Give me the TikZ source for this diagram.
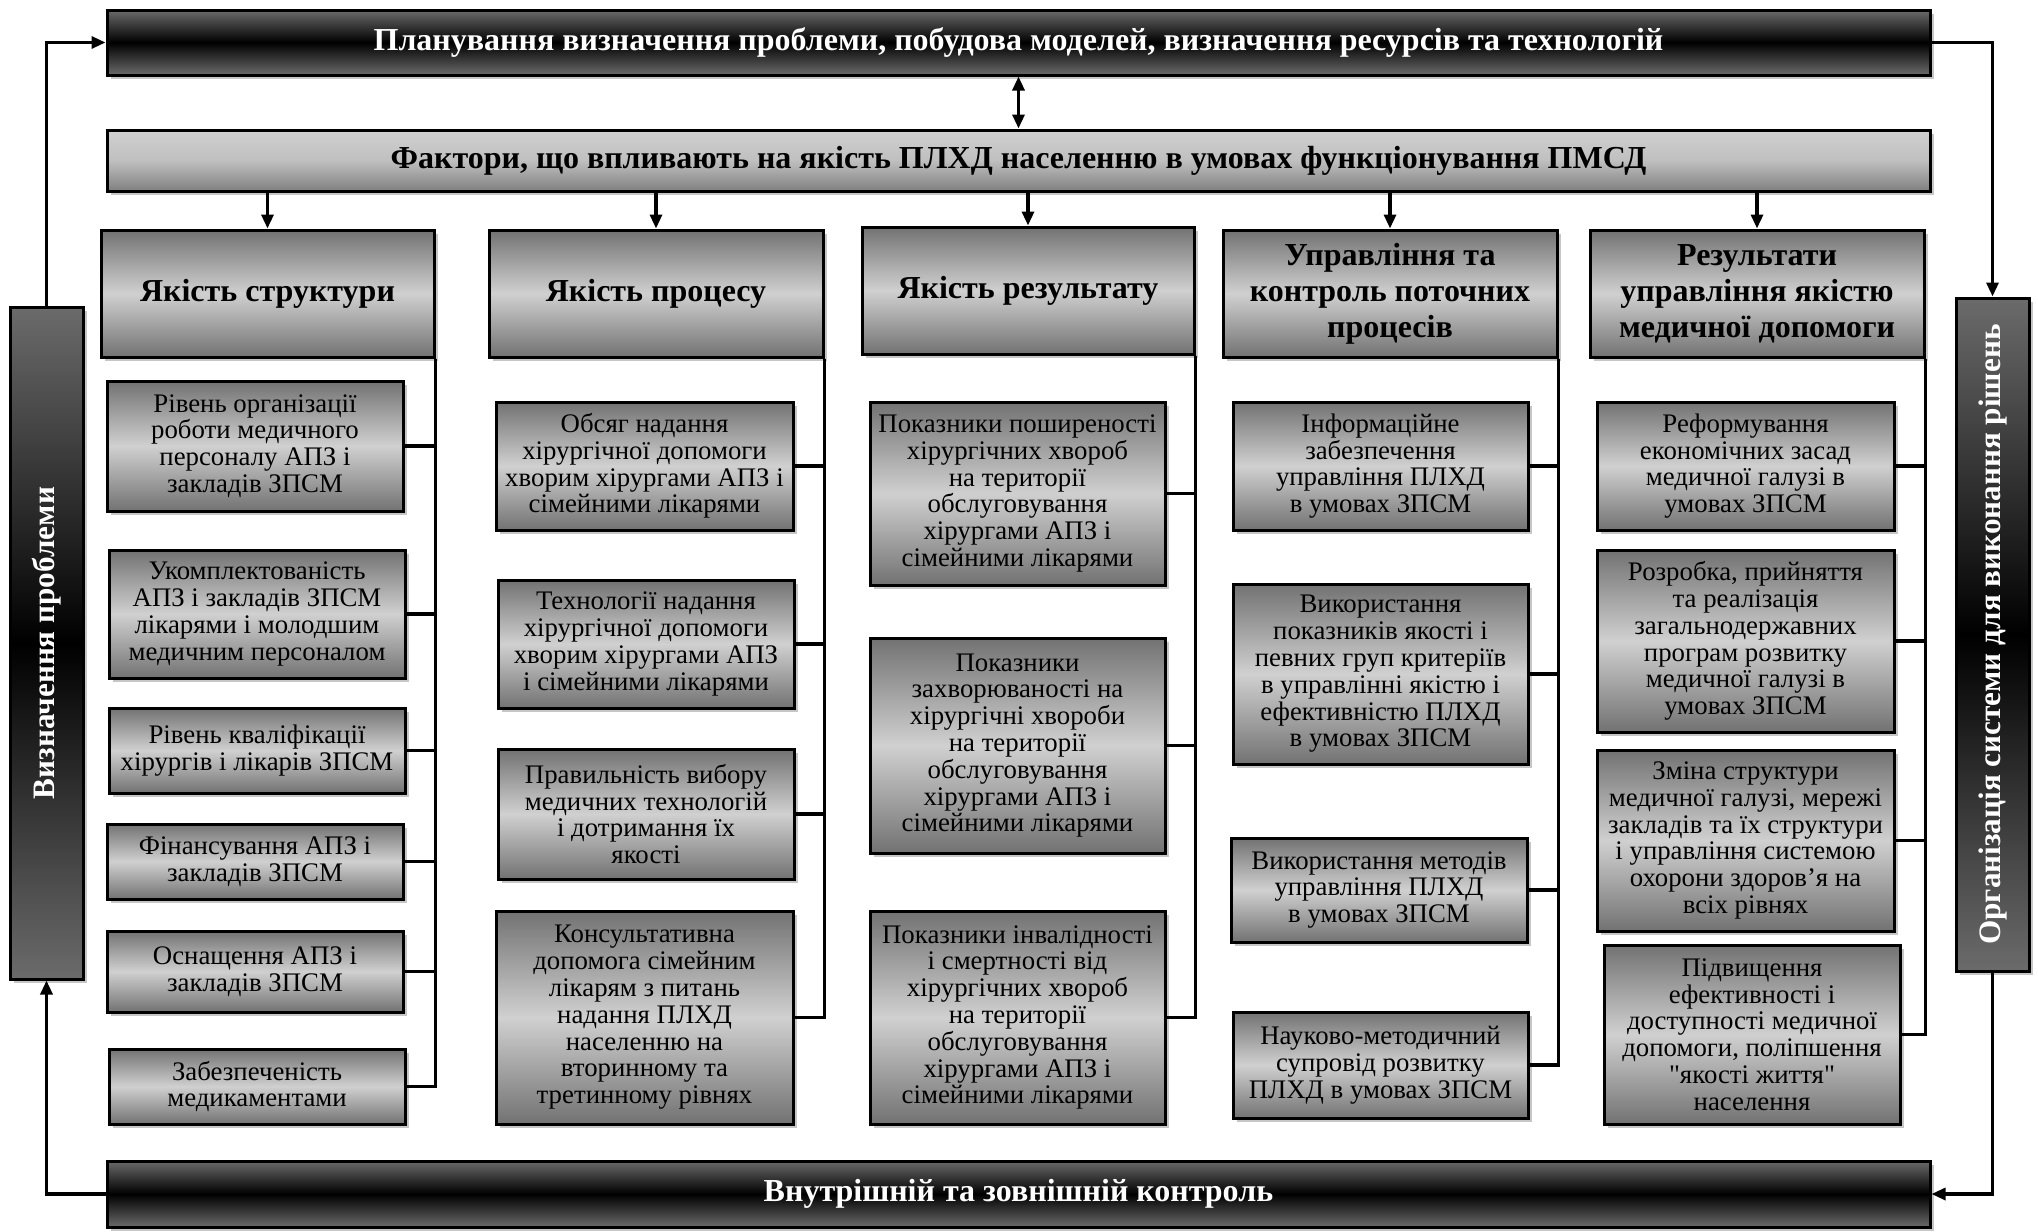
\documentclass[tikz,border=0pt]{standalone}
\usepackage{fontspec}
\setmainfont{Liberation Serif}[Ligatures=TeXOff]
\usetikzlibrary{arrows.meta,positioning,calc,shadows}
\definecolor{pmDark}{HTML}{6B6B6B}
\definecolor{pmMid}{HTML}{727272}
\definecolor{pmLight}{HTML}{D0D0D0}
\definecolor{pmShadow}{HTML}{C6C6C6}

\begin{document}
\begin{tikzpicture}[
  x=.5pt,y=-.5pt,
  sz/.style 2 args={minimum width=#1*.5pt,minimum height=#2*.5pt},
  boxshadow/.style={drop shadow={shadow xshift=2pt,shadow yshift=-2pt,fill=pmShadow,opacity=1}},
  box/.style={boxshadow,draw=black,line width=1.5pt,inner sep=0pt,align=center},
  bar/.style={box,shading=axis,top color=pmDark,bottom color=pmDark,middle color=black,
    text=white,font=\bfseries\fontsize{16}{18}\selectfont},
  lightbar/.style={box,shading=axis,top color=pmLight,bottom color=pmMid!90,middle color=pmLight!92!black,
    font=\bfseries\fontsize{16}{18}\selectfont},
  side/.style={box,shading=axis,top color=pmDark,bottom color=pmDark,middle color=black},
  sidetext/.style={rotate=90,text=white,font=\bfseries\fontsize{15.6}{17}\selectfont},
  head/.style={box,shading=axis,shading angle=-45,top color=pmMid,bottom color=pmMid,middle color=pmLight,
    font=\bfseries\fontsize{16}{18}\selectfont},
  item/.style={box,shading=axis,shading angle=-45,top color=pmMid,bottom color=pmMid,middle color=pmLight,
    font=\fontsize{13.4}{13.4}\selectfont},
  link/.style={draw=black,line width=1.6pt},
  arr/.style={-{Triangle[length=7pt,width=6pt]}}
]
  \useasboundingbox (0,0) rectangle (2038,1231);

  % frame of the cycle
  \node[bar,sz={1823}{65}] (plan) at (1018.5,42.5)
    {Планування визначення проблеми, побудова моделей, визначення ресурсів та технологій};
  \node[lightbar,sz={1823}{61}] (fact) at (1018.5,160.5)
    {Фактори, що впливають на якість ПЛХД населенню в умовах функціонування ПМСД};
  \node[bar,sz={1823}{66}] (ctrl) at (1018.5,1194) {Внутрішній та зовнішній контроль};
  \node[side,sz={73}{672},label={[sidetext]center:Визначення проблеми}] (defp) at (46.5,643) {};
  \node[side,sz={73}{673},label={[sidetext]center:Організація системи для виконання рішень}]
    (orgs) at (1992.5,634.5) {};

  % column heads
  \node[head,sz={333}{127}] (h1) at (267.5,293.5) {Якість структури};
  \node[head,sz={334}{127}] (h2) at (656,293.5) {Якість процесу};
  \node[head,sz={332}{127}] (h3) at (1028,290.5) {Якість результату};
  \node[head,sz={334}{127}] (h4) at (1390,293.5) {Управління та\\контроль поточних\\процесів};
  \node[head,sz={334}{127}] (h5) at (1757,293.5) {Результати\\управління якістю\\медичної допомоги};

  % structure
  \node[item,sz={296}{130}] (i1-1) at (255,446) {Рівень організації\\роботи медичного\\персоналу АПЗ і\\закладів ЗПСМ};
  \node[item,sz={296}{128}] (i1-2) at (257,614) {Укомплектованість\\АПЗ і закладів ЗПСМ\\лікарями і молодшим\\медичним персоналом};
  \node[item,sz={296}{85}] (i1-3) at (257,750.5) {Рівень кваліфікації\\хірургів і лікарів ЗПСМ};
  \node[item,sz={296}{75}] (i1-4) at (255,861.5) {Фінансування АПЗ і\\закладів ЗПСМ};
  \node[item,sz={296}{81}] (i1-5) at (255,971.5) {Оснащення АПЗ і\\закладів ЗПСМ};
  \node[item,sz={296}{75}] (i1-6) at (257,1086.5) {Забезпеченість\\медикаментами};

  % process
  \node[item,sz={297}{128}] (i2-1) at (644.5,466) {Обсяг надання\\хірургічної допомоги\\хворим хірургами АПЗ і\\сімейними лікарями};
  \node[item,sz={296}{128}] (i2-2) at (646,644) {Технології надання\\хірургічної допомоги\\хворим хірургами АПЗ\\і сімейними лікарями};
  \node[item,sz={296}{130}] (i2-3) at (646,814) {Правильність вибору\\медичних технологій\\і дотримання їх\\якості};
  \node[item,sz={297}{213}] (i2-4) at (644.5,1017.5) {Консультативна\\допомога сімейним\\лікарям з питань\\надання ПЛХД\\населенню на\\вторинному та\\третинному рівнях};

  % result
  \node[item,sz={295}{183}] (i3-1) at (1017.5,493.5) {Показники поширеності\\хірургічних хвороб\\на території\\обслуговування\\хірургами АПЗ і\\сімейними лікарями};
  \node[item,sz={295}{215}] (i3-2) at (1017.5,745.5) {Показники\\захворюваності на\\хірургічні хвороби\\на території\\обслуговування\\хірургами АПЗ і\\сімейними лікарями};
  \node[item,sz={295}{213}] (i3-3) at (1017.5,1017.5) {Показники інвалідності\\і смертності від\\хірургічних хвороб\\на території\\обслуговування\\хірургами АПЗ і\\сімейними лікарями};

  % control of processes
  \node[item,sz={295}{128}] (i4-1) at (1380.5,466) {Інформаційне\\забезпечення\\управління ПЛХД\\в умовах ЗПСМ};
  \node[item,sz={295}{180}] (i4-2) at (1380.5,674) {Використання\\показників якості і\\певних груп критеріїв\\в управлінні якістю і\\ефективністю ПЛХД\\в умовах ЗПСМ};
  \node[item,sz={296}{104}] (i4-3) at (1379,890) {Використання методів\\управління ПЛХД\\в умовах ЗПСМ};
  \node[item,sz={295}{106}] (i4-4) at (1380.5,1065) {Науково-методичний\\супровід розвитку\\ПЛХД в умовах ЗПСМ};

  % management results
  \node[item,sz={297}{128}] (i5-1) at (1745.5,466) {Реформування\\економічних засад\\медичної галузі в\\умовах ЗПСМ};
  \node[item,sz={297}{182}] (i5-2) at (1745.5,641) {Розробка, прийняття\\та реалізація\\загальнодержавних\\програм розвитку\\медичної галузі в\\умовах ЗПСМ};
  \node[item,sz={297}{181}] (i5-3) at (1745.5,840.5) {Зміна структури\\медичної галузі, мережі\\закладів та їх структури\\і управління системою\\охорони здоров’я на\\всіх рівнях};
  \node[item,sz={296}{179}] (i5-4) at (1752,1034.5) {Підвищення\\ефективності і\\доступності медичної\\допомоги, поліпшення\\"якості життя"\\населення};

  % connectors
  \draw[link,arr] (defp.north) |- (plan.west);
  \draw[link,arr] (plan.east) -| (orgs.north);
  \draw[link,arr] (orgs.south) |- (ctrl.east);
  \draw[link,arr] (ctrl.west) -| (defp.south);
  \draw[link,{Triangle[length=7pt,width=6pt]}-{Triangle[length=7pt,width=6pt]}] (plan.south) -- (fact.north);
  \foreach \c in {1,...,5}
    \draw[link,arr] (fact.south -| h\c.north) -- (h\c.north);
  \foreach \c/\n in {1/6,2/4,3/3,4/4,5/4}{
    \draw[link] (h\c.south east) |- (i\c-\n.east);
    \foreach \r in {1,...,\n}
      \draw[link] (i\c-\r.east) -- (i\c-\r.east -| h\c.south east);
  }
\end{tikzpicture}
\end{document}
